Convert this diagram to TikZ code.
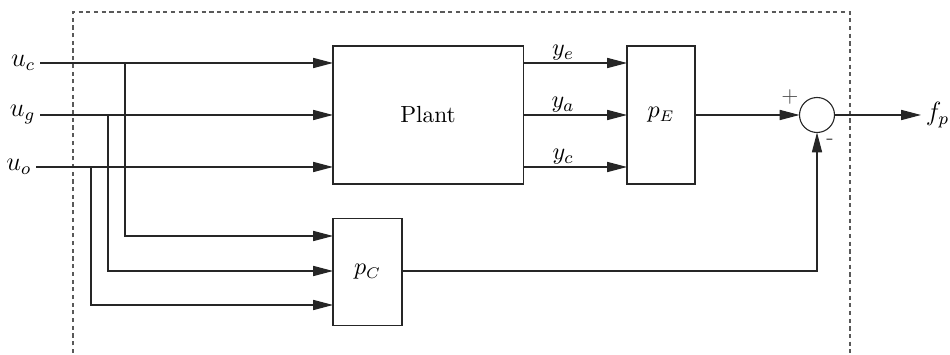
\documentclass[tikz,border=0pt]{standalone}
\usetikzlibrary{arrows.meta}
\begin{document}
\begin{tikzpicture}[x=0.4545pt,y=-0.4545pt,
  wire/.style={line width=0.5pt,draw=black!85},
  arr/.style={wire,-{Triangle[length=9pt,width=4.6pt]}},
  blk/.style={draw=black!85,line width=0.5pt,inner sep=0pt,outer sep=0pt},
  inlab/.style={anchor=east,inner sep=2pt,font=\large},
  ylab/.style={anchor=south,inner sep=1pt,font=\fontsize{11}{13}\selectfont},
  frame/.style={draw=black!65,line width=0.5pt,dash pattern=on 1.9pt off 1.6pt}]
\useasboundingbox (0,0) rectangle (950,355);
% dashed frame
\draw[frame] (73,353) -- (73,12) -- (850,12) -- (850,353);
% blocks
\node[blk,minimum width=86.4pt,minimum height=62.7pt,font=\fontsize{10.6}{12}\selectfont] (plant) at (428,115) {Plant};
\node[blk,minimum width=30.9pt,minimum height=62.7pt,font=\fontsize{10.6}{12}\selectfont] (pE) at (661,115) {$p_E$};
\node[blk,minimum width=31.4pt,minimum height=48.6pt,font=\fontsize{10.6}{12}\selectfont] (pC) at (367.5,272) {$p_C$};
\node[blk,circle,minimum size=15.9pt] (sum) at (817,115) {};
% input labels
\node[inlab] (uc) at (40,63) {$u_c$};
\node[inlab] (ug) at (40,115) {$u_g$};
\node[inlab] (uo) at (36,167) {$u_o$};
% branch points
\coordinate (bc) at (125,63);
\coordinate (bg) at (108,115);
\coordinate (bo) at (91,167);
\coordinate (ic) at (333,236);
\coordinate (ig) at (333,271);
\coordinate (io) at (333,305);
% inputs to plant
\draw[arr] (uc.east) -- (uc.east -| plant.west);
\draw[arr] (ug.east) -- (ug.east -| plant.west);
\draw[arr] (uo.east) -- (uo.east -| plant.west);
% inputs to pC
\draw[arr] (bc) |- (ic);
\draw[arr] (bg) |- (ig);
\draw[arr] (bo) |- (io);
% plant outputs
\coordinate (oe) at (523,63);
\coordinate (oa) at (523,115);
\coordinate (oc) at (523,167);
\draw[arr] (oe) -- (oe -| pE.west);
\draw[arr] (oa) -- (oa -| pE.west);
\draw[arr] (oc) -- (oc -| pE.west);
\node[ylab] (ye) at (563,63) {$y_e$};
\node[ylab] (ya) at (563,115) {$y_a$};
\node[ylab] (yc) at (563,167) {$y_c$};
% to sum
\draw[arr] (pE.east) -- (sum.west);
\draw[arr] (pC.east |- 0,271) -| (sum.south);
\node[inner sep=0pt,text=black!70] (plus) at (790,97) {$+$};
\node[inner sep=0pt,text=black!70] (minus) at (830,142) {-};
% output
\node[anchor=west,inner sep=2pt,font=\large] (fp) at (921,115) {$f_p$};
\draw[arr] (sum.east) -- (fp.west);
\end{tikzpicture}
\end{document}
